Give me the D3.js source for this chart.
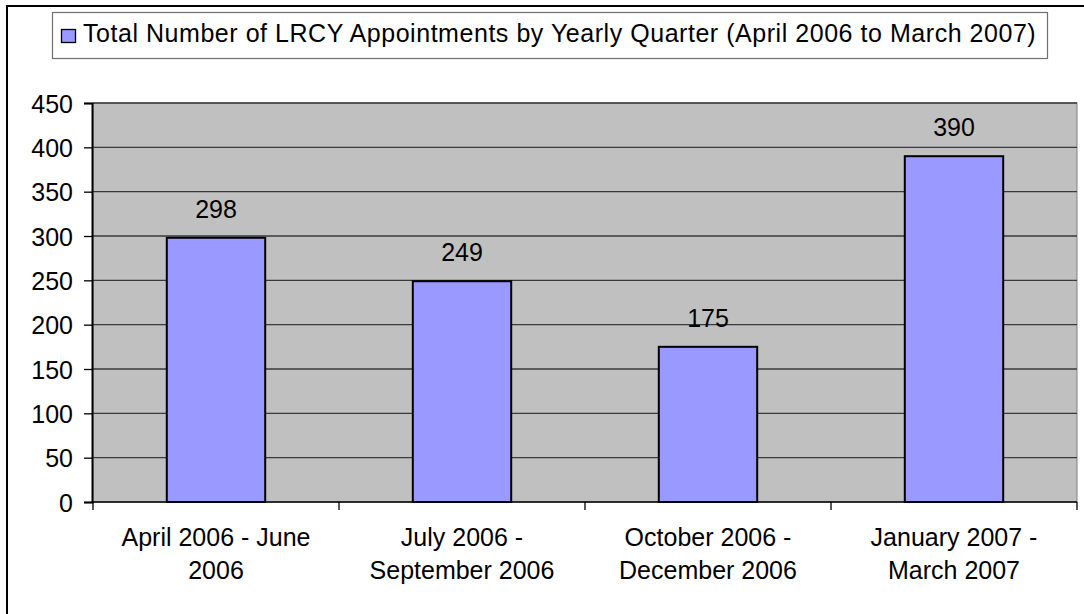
<!DOCTYPE html>
<html>
<head>
<meta charset="utf-8">
<script src="https://cdn.jsdelivr.net/npm/d3@7"></script>
<style>
  body { margin: 0; background: #fff; }
  text { font-family: "Liberation Sans", Arial, sans-serif; fill: #000; }
</style>
</head>
<body>
<div id="canvas"></div>
<script>
// chart data
const quarters = ["Q1", "Q2", "Q3", "Q4"];
const quarterLabels = [
    ["April 2006 - June", "2006"],
    ["July 2006 -", "September 2006"],
    ["October 2006 -", "December 2006"],
    ["January 2007 -", "March 2007"]
];
const appointments = [298, 249, 175, 390];
const yTicks = [0, 50, 100, 150, 200, 250, 300, 350, 400, 450];
const legendLabel = "Total Number of LRCY Appointments by Yearly Quarter (April 2006 to March 2007)";

const W = 1084, H = 614;
const plot = { left: 93, right: 1077, top: 103, bottom: 502 };
const barColor = "#9999FF";

const svg = d3.select("#canvas")
    .append("svg")
    .attr("width", W)
    .attr("height", H);

// outer frame (right/bottom edges fall outside the picture)
svg.append("rect")
    .attr("x", 7).attr("y", 6)
    .attr("width", W).attr("height", H)
    .attr("fill", "#fff")
    .attr("stroke", "#000")
    .attr("stroke-width", 2);

// legend
const legend = svg.append("g");
legend.append("rect")
    .attr("x", 52.5).attr("y", 12.5)
    .attr("width", 995).attr("height", 46)
    .attr("fill", "#fff")
    .attr("stroke", "#707070")
    .attr("stroke-width", 1.2);
legend.append("rect")
    .attr("x", 61.5).attr("y", 29.5)
    .attr("width", 14).attr("height", 13)
    .attr("fill", barColor)
    .attr("stroke", "#000")
    .attr("stroke-width", 1.3);
legend.append("text")
    .attr("x", 83).attr("y", 42)
    .attr("font-size", 25)
    .attr("letter-spacing", 0.54)
    .text(legendLabel);

const x = d3.scaleBand()
    .domain(quarters)
    .range([plot.left, plot.right])
    .paddingInner(0.6)
    .paddingOuter(0.3);

const y = d3.scaleLinear()
    .domain([0, 450])
    .range([plot.bottom, plot.top]);

const step = x.step();

// plot area
svg.append("rect")
    .attr("x", plot.left).attr("y", plot.top)
    .attr("width", plot.right - plot.left)
    .attr("height", plot.bottom - plot.top)
    .attr("fill", "#C0C0C0")
    .attr("stroke", "#808080")
    .attr("stroke-width", 1);

// gridlines
svg.append("g")
    .selectAll("line")
    .data(yTicks.filter(d => d > 0))
    .join("line")
    .attr("x1", plot.left).attr("x2", plot.right)
    .attr("y1", d => y(d)).attr("y2", d => y(d))
    .attr("stroke", "#3a3a3a")
    .attr("stroke-width", 1.4);

// y axis
const yAxis = svg.append("g")
    .attr("transform", `translate(${plot.left - 1},0)`)
    .call(d3.axisLeft(y).tickValues(yTicks).tickSize(8).tickPadding(11));
yAxis.select(".domain").attr("stroke", "#000").attr("stroke-width", 2);
yAxis.selectAll(".tick line").attr("stroke", "#000").attr("stroke-width", 1.3);
yAxis.selectAll(".tick text")
    .attr("font-size", 25)
    .attr("font-family", "Liberation Sans, Arial, sans-serif")
    .attr("dy", "0.36em");

// x axis
svg.append("line")
    .attr("x1", plot.left - 1).attr("x2", plot.right)
    .attr("y1", plot.bottom).attr("y2", plot.bottom)
    .attr("stroke", "#000")
    .attr("stroke-width", 1.5);

const bounds = quarters.map(q => x(q) - step * 0.3).concat([plot.right]);
svg.append("g")
    .selectAll("line")
    .data(bounds)
    .join("line")
    .attr("x1", d => d).attr("x2", d => d)
    .attr("y1", plot.bottom).attr("y2", plot.bottom + 8)
    .attr("stroke", "#000")
    .attr("stroke-width", 1.3);

// bars
svg.append("g")
    .selectAll("rect")
    .data(appointments)
    .join("rect")
    .attr("x", (d, i) => x(quarters[i]))
    .attr("y", d => y(d))
    .attr("width", x.bandwidth())
    .attr("height", d => y(0) - y(d))
    .attr("fill", barColor)
    .attr("stroke", "#000")
    .attr("stroke-width", 2);

// value labels
svg.append("g")
    .selectAll("text")
    .data(appointments)
    .join("text")
    .attr("x", (d, i) => x(quarters[i]) + x.bandwidth() / 2)
    .attr("y", d => y(d) - 20)
    .attr("text-anchor", "middle")
    .attr("font-size", 25)
    .text(d => d);

// category labels
const cat = svg.append("g")
    .selectAll("text")
    .data(quarterLabels)
    .join("text")
    .attr("text-anchor", "middle")
    .attr("font-size", 25);
cat.selectAll("tspan")
    .data((d, i) => d.map(s => ({ s, i })))
    .join("tspan")
    .attr("x", d => x(quarters[d.i]) + x.bandwidth() / 2)
    .attr("y", (d, j) => 546 + j * 33)
    .text(d => d.s);
</script>
</body>
</html>
